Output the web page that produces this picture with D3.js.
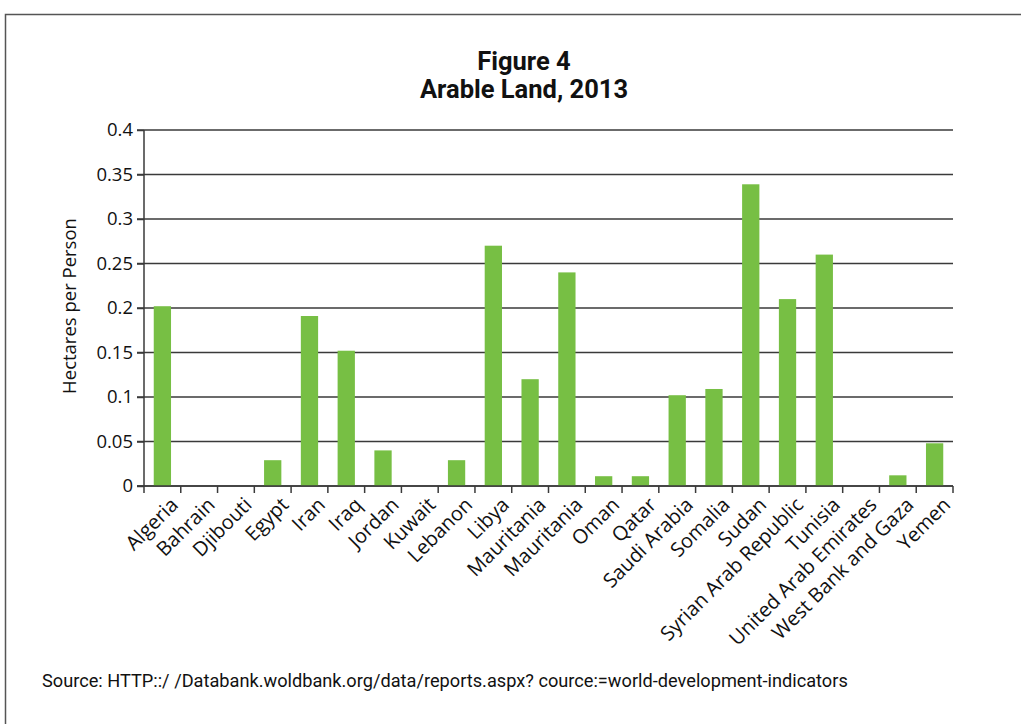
<!DOCTYPE html>
<html><head><meta charset="utf-8">
<script src="https://cdn.jsdelivr.net/npm/d3@7"></script>
<style>body{margin:0;background:#fff;}svg{display:block;}</style>
</head><body>
<script>
const categories = ["Algeria","Bahrain","Djibouti","Egypt","Iran","Iraq","Jordan","Kuwait","Lebanon","Libya","Mauritania","Mauritania","Oman","Qatar","Saudi Arabia","Somalia","Sudan","Syrian Arab Republic","Tunisia","United Arab Emirates","West Bank and Gaza","Yemen"];
const values = [0.202,0,0,0.029,0.191,0.152,0.04,0,0.029,0.27,0.12,0.24,0.011,0.011,0.102,0.109,0.339,0.21,0.26,0,0.012,0.048];
const yTicks = [0,0.05,0.1,0.15,0.2,0.25,0.3,0.35,0.4];
const titleLines = ["Figure 4","Arable Land, 2013"];
const yTitle = "Hectares per Person";
const sourceText = "Source: HTTP::/ /Databank.woldbank.org/data/reports.aspx? cource:=world-development-indicators";

const W=1021,H=724;
const svg=d3.select("body").append("svg").attr("width",W).attr("height",H);
svg.append("path").attr("d",`M5.5,${H+5}V14.5H${W+5}`).attr("fill","none").attr("stroke","#555").attr("stroke-width",1.5);

const x=d3.scaleBand().domain(d3.range(categories.length)).range([144,953]).paddingInner(0.53).paddingOuter(0.265);
const y=d3.scaleLinear().domain([0,0.4]).range([486,130]);

// gridlines
svg.append("g").selectAll("line").data(yTicks).join("line")
 .attr("x1",137).attr("x2",953).attr("y1",d=>y(d)).attr("y2",d=>y(d))
 .attr("stroke","#3a3a3a").attr("stroke-width",1.5);

// y axis
const ya=svg.append("g").attr("transform","translate(144,0)")
 .call(d3.axisLeft(y).tickValues(yTicks).tickSize(7).tickPadding(4).tickFormat(d=>String(+d.toFixed(2))));
ya.select(".domain").attr("stroke","#3a3a3a").attr("stroke-width",1.5).attr("d","M0,130V486");
ya.selectAll(".tick line").attr("stroke","#3a3a3a").attr("stroke-width",1.5);
ya.selectAll("text").attr("font-family","Open Sans").attr("font-size",18.5).attr("fill","#111");

// bars
svg.append("g").selectAll("rect").data(values).join("rect")
 .attr("x",(d,i)=>x(i)).attr("width",x.bandwidth())
 .attr("y",d=>y(d)).attr("height",d=>y(0)-y(d)).attr("fill","#77bf44");

// x axis
const xs=d3.scaleBand().domain(d3.range(categories.length)).range([144,953]);
const xa=svg.append("g").attr("transform","translate(0,486)");
xa.append("line").attr("x1",137).attr("x2",953).attr("stroke","#3a3a3a").attr("stroke-width",1.5);
xa.selectAll("line.t").data(d3.range(categories.length+1)).join("line").attr("class","t")
 .attr("x1",i=>144+i*xs.step()).attr("x2",i=>144+i*xs.step()).attr("y1",0).attr("y2",7)
 .attr("stroke","#3a3a3a").attr("stroke-width",1.5);
xa.selectAll("text").data(categories).join("text")
 .attr("transform",(d,i)=>`translate(${xs(i)+xs.bandwidth()/2+7},${10}) rotate(-45)`)
 .attr("text-anchor","end").attr("dy","0.71em")
 .attr("font-family","Open Sans").attr("font-size",20).attr("fill","#111").text(d=>d);

// y title
svg.append("text").attr("transform",`translate(76,306) rotate(-90)`).attr("text-anchor","middle")
 .attr("font-family","Open Sans").attr("font-size",18.5).attr("fill","#111").text(yTitle);

// title
svg.append("g").selectAll("text").data(titleLines).join("text")
 .attr("x",524).attr("y",(d,i)=>70+i*28).attr("text-anchor","middle")
 .attr("font-family","Roboto").attr("font-weight","bold").attr("font-size",25.5).attr("fill","#111").text(d=>d);

svg.append("text").attr("x",42).attr("y",687).attr("font-family","Roboto").attr("font-size",18.2).attr("fill","#111").text(sourceText);
</script>
</body></html>
